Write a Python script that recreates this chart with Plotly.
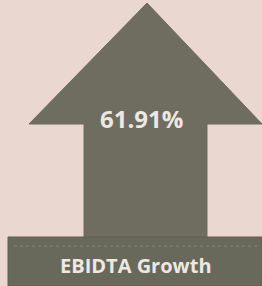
import plotly.graph_objects as go

# Data
metric_label = "EBIDTA Growth"
growth_value = 61.91

W, H = 262, 286
bg = "#e9d7d0"
arrow_col = "#6e6d60"
bar_col = "#68685b"
text_col = "#ede8e2"

fig = go.Figure()

# Arrow shape (decorative infographic) in pixel-like data coordinates
arrow_path = "M 147 3 L 262 124 L 207 124 L 207 240 L 84 240 L 84 124 L 29 124 Z"
fig.add_shape(type="path", path=arrow_path, xref="x", yref="y",
              fillcolor=arrow_col, line=dict(color=arrow_col, width=1), layer="below")
# Label bar
fig.add_shape(type="rect", x0=8, x1=262, y0=237, y1=286, xref="x", yref="y",
              fillcolor=bar_col, line=dict(color="#5e5e52", width=1), layer="below")
fig.add_shape(type="line", x0=14, x1=258, y0=246, y1=246, xref="x", yref="y",
              line=dict(color="#85857a", width=1, dash="dot"), layer="below")

fig.add_annotation(x=141, y=118, xref="x", yref="y", text=f"<b>{growth_value:.2f}%</b>",
                   showarrow=False, font=dict(family="Open Sans", size=24, color=text_col))
fig.add_annotation(x=136, y=265, xref="x", yref="y", text=f"<b>{metric_label}</b>",
                   showarrow=False, font=dict(family="Open Sans", size=20, color=text_col))

fig.update_xaxes(range=[0, W], visible=False, fixedrange=True)
fig.update_yaxes(range=[H, 0], visible=False, fixedrange=True)
fig.update_layout(width=W, height=H, margin=dict(l=0, r=0, t=0, b=0),
                  paper_bgcolor=bg, plot_bgcolor=bg, showlegend=False)

fig.write_html("out.html", config={"displayModeBar": False},
               post_script="document.body.style.margin='0';document.body.style.overflow='hidden';")
